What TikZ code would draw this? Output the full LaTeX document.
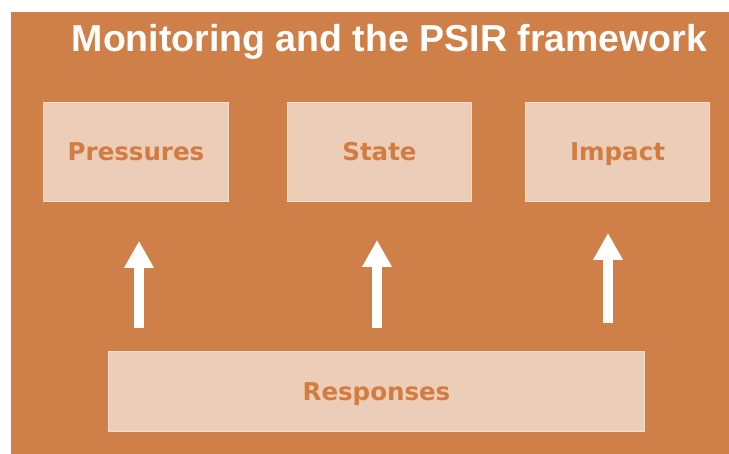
\documentclass[tikz,border=0pt]{standalone}
\usepackage{fontspec}
\usetikzlibrary{arrows.meta}
\newfontfamily\titlefam{Liberation Sans}
\newfontfamily\boxfam{DejaVu Sans}
\definecolor{bgorange}{HTML}{CF7F48}
\definecolor{boxfill}{HTML}{ECCDB7}
\definecolor{boxedge}{HTML}{F3DDCD}
\definecolor{boxtext}{HTML}{D27C42}
\tikzset{
  box/.style={draw=boxedge, fill=boxfill, line width=1.2pt, inner sep=0pt,
    font=\boxfam\bfseries\fontsize{24.5}{24.5}\selectfont, text=boxtext,
    text height=17.5pt, text depth=0pt},
  uparrow/.style={draw=white, line width=10pt, line cap=butt,
    -{Triangle[width=28pt,length=27pt]}},
}
\begin{document}
\begin{tikzpicture}[x=1pt,y=-1pt]
\useasboundingbox (0,0) rectangle (729,454);
\fill[white] (0,0) rectangle (729,454);
\fill[bgorange] (11,12) rectangle (729,454);
\node[anchor=base, text=white, inner sep=0pt,
  font=\titlefam\bfseries\fontsize{37.5}{37.5}\selectfont] (title) at (389.5,52)
  {Monitoring and the PSIR framework};
\node[box, minimum width=185pt, minimum height=99pt] (pres) at (136,152) {Pressures};
\node[box, minimum width=184pt, minimum height=99pt] (state) at (379.5,152) {State};
\node[box, minimum width=184pt, minimum height=99pt] (impact) at (617.5,152) {Impact};
\node[box, minimum width=536pt, minimum height=80pt] (resp) at (376.5,391.5) {Responses};
\coordinate (a1s) at (139,328);
\coordinate (a1e) at (139,241);
\coordinate (a2s) at (377,328);
\coordinate (a2e) at (377,240);
\coordinate (a3s) at (608,323);
\coordinate (a3e) at (608,233);
\draw[uparrow] (a1s) -- (a1e);
\draw[uparrow] (a2s) -- (a2e);
\draw[uparrow] (a3s) -- (a3e);
\end{tikzpicture}
\end{document}
